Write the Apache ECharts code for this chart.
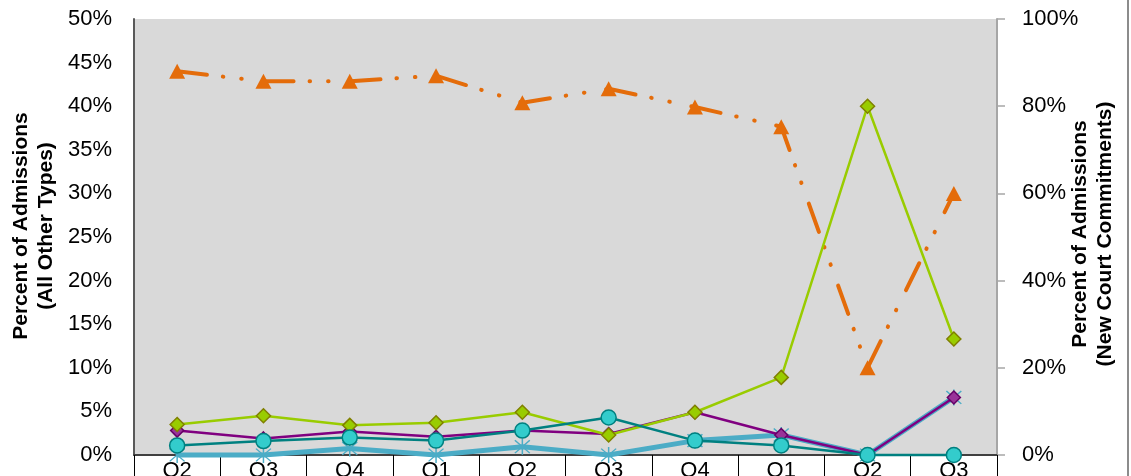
<!DOCTYPE html>
<html>
<head>
<meta charset="utf-8">
<script src="https://cdn.jsdelivr.net/npm/echarts@6/dist/echarts.min.js"></script>
<style>
  html, body { margin: 0; padding: 0; background: #ffffff; }
  #chart { width: 1131px; height: 476px; }
</style>
</head>
<body>
<div id="chart"></div>
<script>
// Quarter labels along the bottom axis
const quarters = ['Q2', 'Q3', 'Q4', 'Q1', 'Q2', 'Q3', 'Q4', 'Q1', 'Q2', 'Q3'];

// New court commitments, percent of admissions (right axis)
const newCourtCommitments = [88, 85.7, 85.7, 87, 80.8, 84, 79.8, 75.3, 20, 60];

// Other admission types, percent of admissions (left axis)
const typeLime   = [3.5, 4.5, 3.4, 3.7, 4.9, 2.3, 4.9, 8.9, 40, 13.3];
const typePurple = [2.8, 1.9, 2.7, 2.1, 2.8, 2.4, 4.9, 2.3, 0, 6.6];
const typeTeal   = [1.1, 1.6, 2.0, 1.65, 2.8, 4.3, 1.65, 1.1, 0, 0];
const typeBlue   = [0, 0, 0.75, 0, 0.95, 0, 1.65, 2.3, 0, 6.6];

// Axis ranges
const leftAxisMax = 50, leftAxisStep = 5;
const rightAxisMax = 100, rightAxisStep = 20;

const FONT = '"Liberation Sans", Arial, sans-serif';

// Asterisk marker: vertical bar plus two diagonals
const starPath = 'path://M46 0L54 0L54 100L46 100Z' +
  'M12.83 7.17L92.83 87.17L87.17 92.83L7.17 12.83Z' +
  'M87.17 7.17L92.83 12.83L12.83 92.83L7.17 87.17Z';

const chart = echarts.init(document.getElementById('chart'), null, { renderer: 'canvas' });

chart.setOption({
  animation: false,
  backgroundColor: '#ffffff',
  textStyle: { fontFamily: FONT },
  grid: {
    left: 134, right: 134, top: 19, bottom: 21,
    containLabel: false,
    outerBoundsMode: 'none',
    show: true, backgroundColor: '#d9d9d9', borderWidth: 0
  },
  xAxis: {
    type: 'category',
    data: quarters,
    boundaryGap: true,
    axisLine: { show: true, lineStyle: { color: '#404040', width: 2 } },
    axisTick: { show: true, interval: 0, length: 25, lineStyle: { color: '#000000', width: 1 } },
    axisLabel: { interval: 0, fontSize: 22, color: '#000000', margin: 5, fontFamily: FONT },
    splitLine: { show: false }
  },
  yAxis: [
    {
      type: 'value',
      position: 'left',
      min: 0, max: leftAxisMax, interval: leftAxisStep,
      axisLine: { show: true, lineStyle: { color: '#595959', width: 2 } },
      axisTick: { show: false },
      splitLine: { show: false },
      axisLabel: { formatter: '{value}%', fontSize: 22, color: '#000000', margin: 22, fontFamily: FONT }
    },
    {
      type: 'value',
      position: 'right',
      min: 0, max: rightAxisMax, interval: rightAxisStep,
      axisLine: { show: true, lineStyle: { color: '#a6a6a6', width: 2 } },
      axisTick: { show: true, length: 8, lineStyle: { color: '#a6a6a6', width: 1.5 } },
      splitLine: { show: false },
      axisLabel: { formatter: '{value}%', fontSize: 22, color: '#000000', margin: 25, fontFamily: FONT }
    }
  ],
  series: [
    {
      name: 'New Court Commitments',
      type: 'line',
      yAxisIndex: 1,
      data: newCourtCommitments,
      clip: false,
      z: 2,
      symbol: 'triangle',
      symbolSize: [16, 15],
      lineStyle: { color: '#e46c0a', width: 4, type: [30, 16, 0.5, 18, 0.5, 22], cap: 'round' },
      itemStyle: { color: '#e46c0a', borderWidth: 0 }
    },
    {
      name: 'Type D',
      type: 'line',
      data: typeBlue,
      clip: false,
      z: 3,
      symbol: starPath,
      symbolSize: 16,
      lineStyle: { color: '#4bacc6', width: 5 },
      itemStyle: { color: '#4bacc6', borderWidth: 0 }
    },
    {
      name: 'Type B',
      type: 'line',
      data: typePurple,
      clip: false,
      z: 4,
      symbol: 'diamond',
      symbolSize: 13,
      lineStyle: { color: '#800080', width: 2.5 },
      itemStyle: { color: '#993399', borderColor: '#660066', borderWidth: 1.5 }
    },
    {
      name: 'Type A',
      type: 'line',
      data: typeLime,
      clip: false,
      z: 5,
      symbol: 'diamond',
      symbolSize: 14,
      lineStyle: { color: '#99cc00', width: 2.5 },
      itemStyle: { color: '#99cc00', borderColor: '#808000', borderWidth: 1.5 }
    },
    {
      name: 'Type C',
      type: 'line',
      data: typeTeal,
      clip: false,
      z: 6,
      symbol: 'circle',
      symbolSize: 15,
      lineStyle: { color: '#008080', width: 2.5 },
      itemStyle: { color: '#33cccc', borderColor: '#008080', borderWidth: 1.5 }
    }
  ],
  graphic: [
    {
      type: 'text',
      x: 34, y: 226,
      rotation: Math.PI / 2,
      style: {
        text: 'Percent of Admissions\n(All Other Types)',
        fontFamily: FONT, fontSize: 21, fontWeight: 'bold',
        lineHeight: 25,
        fill: '#000000',
        align: 'center', verticalAlign: 'middle'
      }
    },
    {
      type: 'text',
      x: 1093, y: 234,
      rotation: Math.PI / 2,
      style: {
        text: 'Percent of Admissions\n(New Court Commitments)',
        fontFamily: FONT, fontSize: 21, fontWeight: 'bold',
        lineHeight: 25,
        fill: '#000000',
        align: 'center', verticalAlign: 'middle'
      }
    },
    {
      type: 'line',
      shape: { x1: 1128, y1: 0, x2: 1128, y2: 476 },
      style: { stroke: '#8c8c8c', lineWidth: 2 }
    }
  ]
});
</script>
</body>
</html>
